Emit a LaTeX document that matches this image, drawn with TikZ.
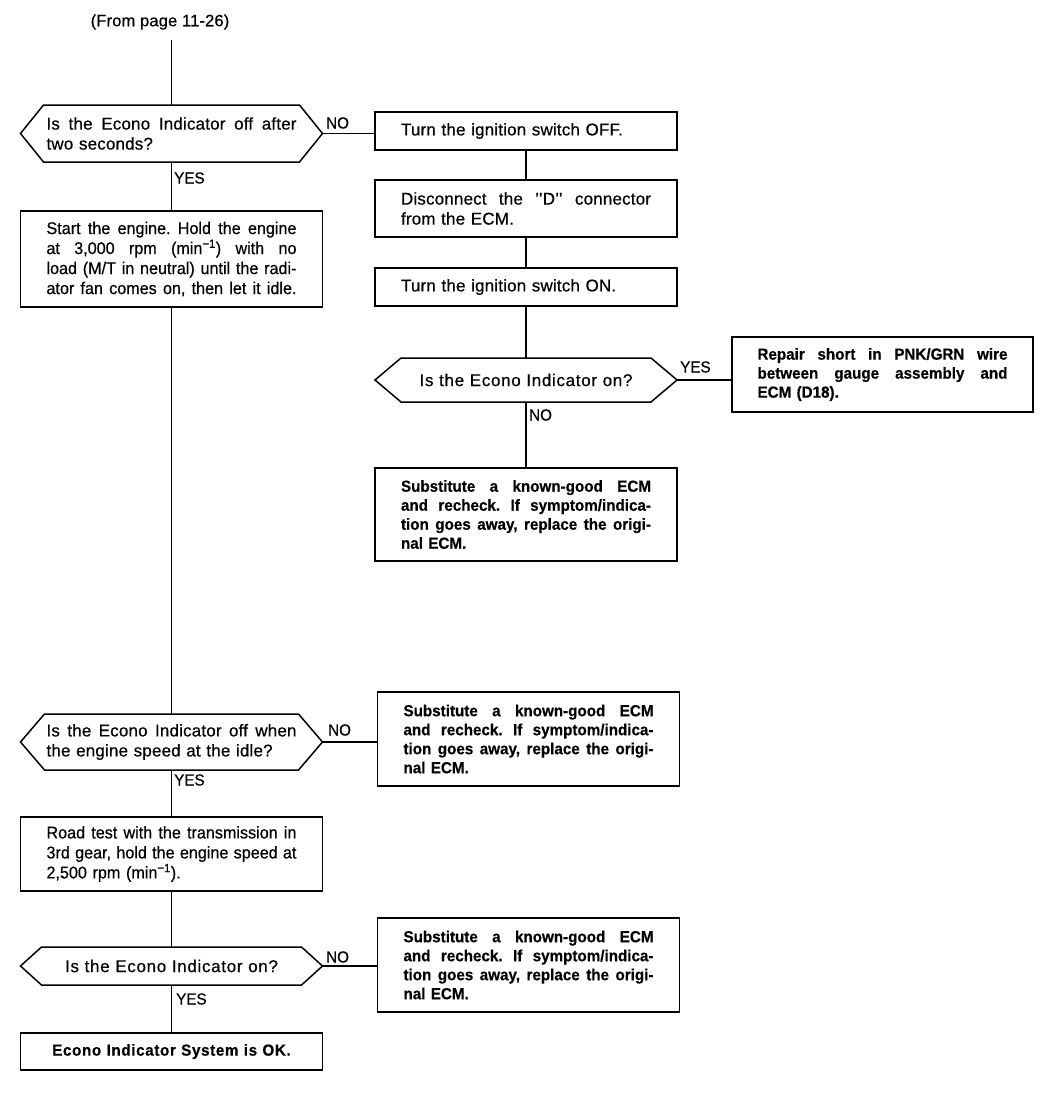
\documentclass[tikz,border=0pt]{standalone}
\usepackage{fontspec}
\setmainfont{Liberation Sans}[FakeStretch=0.95, UprightFeatures={FakeBold=0.5}, BoldFeatures={FakeBold=0.4}]
\newfontfamily\widefont[LetterSpace=1, UprightFeatures={FakeBold=0.5}]{Liberation Sans}
\newcommand\jl[1]{\leavevmode\hbox to 250pt{\frenchspacing\spaceskip=\fontdimen2\font plus 1fil minus 0.15em\relax #1}}
\newcommand\hexa[2]{%
  \draw[conn] (#1.west) -- ([xshift=#2]#1.north west) -- ([xshift=-#2]#1.north east)
    -- (#1.east) -- ([xshift=-#2]#1.south east) -- ([xshift=#2]#1.south west) -- cycle;}
\tikzset{
  conn/.style={line width=1.5pt, line join=miter},
  box/.style={draw, line width=1.5pt, inner sep=0pt, outer sep=0pt, minimum width=302pt,
    text width=250pt, align=left, font=\frenchspacing\fontsize{17}{20}\selectfont},
  wbox/.style={box, font=\frenchspacing\widefont\fontsize{17}{20}\selectfont},
  bbox/.style={box, font=\frenchspacing\fontsize{16}{19}\selectfont\bfseries},
  dec/.style={inner sep=0pt, outer sep=0pt, minimum width=302pt, text width=250pt,
    align=left, font=\frenchspacing\widefont\fontsize{17}{20}\selectfont},
  lbl/.style={font=\fontsize{16}{18}\selectfont, inner sep=0pt, anchor=west}
}
\begin{document}
\begin{tikzpicture}[x=1pt,y=-1pt]
\useasboundingbox[fill=white] (0,0) rectangle (1043,1108);

\node[font=\widefont\fontsize{16.5}{18}\selectfont, inner sep=0pt] (from) at (160,22) {(From page 11-26)};
\coordinate (top) at (171.5,40);

% left column
\node[dec, minimum height=57pt] (d1) at (171.5,133.5)
  {\jl{Is the Econo Indicator off after}\\two seconds?};
\node[box, minimum height=96pt] (b1) at (171.5,259)
  {\jl{Start the engine. Hold the engine}\\
   \jl{at 3,000 rpm (min\textsuperscript{−1}) with no}\\
   \jl{load (M/T in neutral) until the radi-}\\
   \jl{ator fan comes on, then let it idle.}};
\node[dec, minimum height=56pt] (d3) at (171.5,742)
  {\jl{Is the Econo Indicator off when}\\the engine speed at the idle?};
\node[box, minimum height=74pt] (rd) at (171.5,854)
  {\jl{Road test with the transmission in}\\
   \jl{3rd gear, hold the engine speed at}\\
   2,500 rpm (min\textsuperscript{−1}).};
\node[dec, align=center, minimum height=38pt] (d4) at (171.5,966)
  {\addfontfeature{LetterSpace=4}Is the Econo Indicator on?};
\node[box, align=center, minimum height=37pt, font=\fontsize{16}{19}\selectfont\bfseries\addfontfeature{LetterSpace=4}] (ok) at (171.5,1051.5)
  {Econo Indicator System is OK.};

% right column
\node[wbox, minimum height=38pt] (r1) at (526,131) {Turn the ignition switch OFF.};
\node[wbox, minimum height=57pt] (r2) at (526,208.5)
  {\jl{Disconnect the ’’D’’ connector}\\from the ECM.};
\node[wbox, minimum height=38pt] (r3) at (526,287) {Turn the ignition switch ON.};
\node[dec, align=center, minimum height=44pt] (d2) at (526,380)
  {\addfontfeature{LetterSpace=4}Is the Econo Indicator on?};
\node[bbox, minimum width=301pt, minimum height=75pt] (rep) at (882.5,374.5)
  {\jl{Repair short in PNK/GRN wire}\\
   \jl{between gauge assembly and}\\
   ECM (D18).};
\node[bbox, minimum height=93pt] (s1) at (526,514.5)
  {\jl{Substitute a known-good ECM}\\
   \jl{and recheck. If symptom/indica-}\\
   \jl{tion goes away, replace the origi-}\\
   nal ECM.};
\node[bbox, minimum height=94pt] (s2) at (528.5,739)
  {\jl{Substitute a known-good ECM}\\
   \jl{and recheck. If symptom/indica-}\\
   \jl{tion goes away, replace the origi-}\\
   nal ECM.};
\node[bbox, minimum height=94pt] (s3) at (528.5,965)
  {\jl{Substitute a known-good ECM}\\
   \jl{and recheck. If symptom/indica-}\\
   \jl{tion goes away, replace the origi-}\\
   nal ECM.};

% decision outlines
\hexa{d1}{23pt}
\hexa{d2}{26pt}
\hexa{d3}{24pt}
\hexa{d4}{21pt}

% connectors
\draw[conn] (top) -- (d1.north);
\draw[conn] (d1.south) -- (d1.south |- b1.north);
\draw[conn] (b1.south) -- (b1.south |- d3.north);
\draw[conn] (d3.south) -- (d3.south |- rd.north);
\draw[conn] (rd.south) -- (rd.south |- d4.north);
\draw[conn] (d4.south) -- (d4.south |- ok.north);
\draw[conn] (d1.east) -- (d1.east -| r1.west);
\draw[conn] (r1.south) -- (r2.north);
\draw[conn] (r2.south) -- (r3.north);
\draw[conn] (r3.south) -- (d2.north);
\draw[conn] (d2.east) -- (d2.east -| rep.west);
\draw[conn] (d2.south) -- (d2.south |- s1.north);
\draw[conn] (d3.east) -- (d3.east -| s2.west);
\draw[conn] (d4.east) -- (d4.east -| s3.west);

% labels
\node[lbl] (no1) at (326,123) {NO};
\node[lbl] (yes1) at (174,178) {YES};
\node[lbl] (yes2) at (680,367) {YES};
\node[lbl] (no2) at (529,415) {NO};
\node[lbl] (no3) at (328,730) {NO};
\node[lbl] (yes3) at (174,780) {YES};
\node[lbl] (no4) at (326,957) {NO};
\node[lbl] (yes4) at (176,999) {YES};
\end{tikzpicture}
\end{document}
